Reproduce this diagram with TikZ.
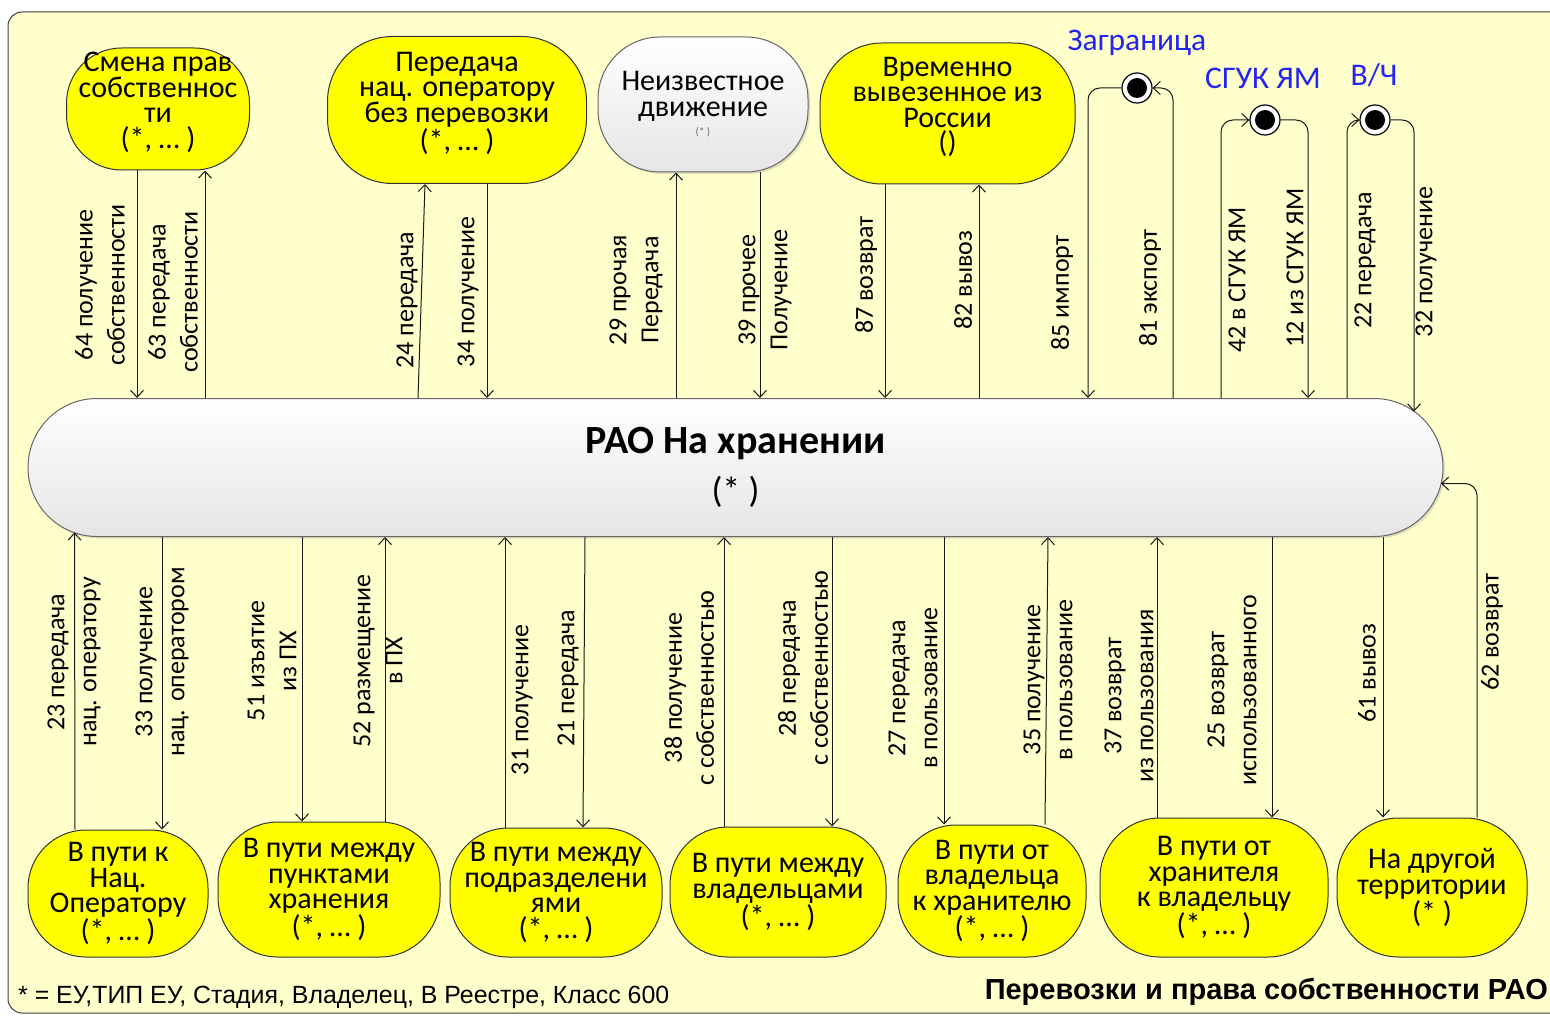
\documentclass[tikz,border=0pt]{standalone}
\usepackage{fontspec}
\setmainfont{Carlito}
\newfontfamily\arialfont{Liberation Sans}
\usetikzlibrary{calc,arrows.meta,shadows}
\definecolor{bgyellow}{RGB}{255,255,204}
\definecolor{nodeyellow}{RGB}{255,255,0}
\definecolor{regionblue}{RGB}{35,35,245}
\begin{document}
\begin{tikzpicture}[x=1pt,y=-1pt,
  frame/.style={draw=black!75, line width=1pt, fill=bgyellow, rounded corners=14pt},
  statebox/.style={draw=black!80, line width=1pt, fill=nodeyellow, align=center,
    inner sep=0pt, font=\fontsize{30}{25.5}\selectfont},
  greybox/.style={statebox, fill=none, top color=white, bottom color=black!10,
    draw=black!60, drop shadow={shadow xshift=2pt, shadow yshift=-2pt, opacity=0.25}},
  marker/.style={circle, draw=black, line width=1.2pt, fill=white, minimum size=30pt,
    inner sep=0pt, path picture={\fill[black] (path picture bounding box.center) circle[radius=10pt];}},
  flow/.style={draw=black!90, line width=1pt, -{Straight Barb[length=7pt,width=13pt]}},
  elbow/.style={flow, rounded corners=12pt},
  lbl/.style={rotate=90, align=center, inner sep=0pt, font=\fontsize{26}{32}\selectfont},
  region/.style={text=regionblue, inner sep=0pt, font=\fontsize{31.5}{31.5}\selectfont},
]
\useasboundingbox (0,0) rectangle (1550,1016);
\clip (0,0) rectangle (1550,1016);
\draw[frame] (8,12) rectangle (1580,1013);

% central state
\node[greybox, minimum width=1415pt, minimum height=138pt, rounded corners=69pt,
  font=\fontsize{40}{49}\selectfont] (main) at (735.5,467.5)
  {\textbf{РАО На хранении}\\{\fontsize{36}{49}\selectfont(* )}};

% upper states
\node[statebox, minimum width=183pt, minimum height=122pt, rounded corners=55pt] (smena) at (158,109)
  {Смена прав\\собственнос\\ти\\(*, … )\\[-8pt]};
\node[statebox, minimum width=259pt, minimum height=147pt, rounded corners=65pt] (bezper) at (457,110)
  {Передача\\нац. оператору\\без перевозки\\(*, … )\\[-8pt]};
\node[greybox, minimum width=210pt, minimum height=135pt, rounded corners=62pt] (unknown) at (703,104.5)
  {Неизвестное\\движение\\[-6pt]{\fontsize{11}{11}\selectfont\color{black!60}(* )}};
\node[statebox, minimum width=255pt, minimum height=141pt, rounded corners=62pt] (vremen) at (947.5,113.5)
  {Временно\\вывезенное из\\России\\()\\[-8pt]};

% external end points
\node[marker] (zag) at (1137,88) {};
\node[marker] (sguk) at (1265,120) {};
\node[marker] (vch) at (1375,120) {};
\node[region] (zagT) at (1137,43) {Заграница};
\node[region] (sgukT) at (1263,78) {СГУК ЯМ};
\node[region] (vchT) at (1374,75) {В/Ч};

% lower states
\node[statebox, minimum width=180pt, minimum height=127pt, rounded corners=58pt] (natsop) at (118,893.5)
  {В пути к\\Нац.\\Оператору\\(*, … )};
\node[statebox, minimum width=222pt, minimum height=135pt, rounded corners=60pt] (punkty) at (329,889.5)
  {В пути между\\пунктами\\хранения\\(*, … )};
\node[statebox, minimum width=212pt, minimum height=129pt, rounded corners=58pt] (podrazd) at (556,892.5)
  {В пути между\\подразделени\\ями\\(*, … )};
\node[statebox, minimum width=216pt, minimum height=130pt, rounded corners=58pt] (vlad) at (778,892)
  {В пути между\\владельцами\\(*, … )};
\node[statebox, minimum width=188pt, minimum height=132pt, rounded corners=58pt] (khran) at (992,891)
  {В пути от\\владельца\\к хранителю\\(*, … )};
\node[statebox, minimum width=228pt, minimum height=139pt, rounded corners=60pt] (kvlad) at (1214,887.5)
  {В пути от\\хранителя\\к владельцу\\(*, … )};
\node[statebox, minimum width=190pt, minimum height=139pt, rounded corners=62pt] (territ) at (1432,887.5)
  {На другой\\территории\\(* )};

% upper transitions
\draw[flow] (smena.south -| 137,0) -- (main.north -| 137,0);
\draw[flow] (main.north -| 205,0) -- (smena.south -| 205,0);
\draw[flow] (main.north -| 418,0) -- (bezper.south -| 425,0);
\draw[flow] (bezper.south -| 487,0) -- (main.north -| 487,0);
\draw[flow] (main.north -| 676,0) -- (unknown.south -| 676,0);
\draw[flow] (unknown.south -| 760,0) -- (main.north -| 760,0);
\draw[flow] (vremen.south -| 885,0) -- (main.north -| 885,0);
\draw[flow] (main.north -| 979,0) -- (vremen.south -| 979,0);
\draw[elbow] (zag.west) -| (main.north -| 1088,0);
\draw[elbow] (main.north -| 1173,0) |- (zag.east);
\draw[elbow] (main.north -| 1221,0) |- (sguk.west);
\draw[elbow] (sguk.east) -| (main.north -| 1308,0);
\draw[elbow] (main.north -| 1347,0) |- (vch.west);
\draw[elbow] (vch.east) -| ($(main.east)+(-29.5,-56)$);

% lower transitions
\draw[flow] (natsop.north -| 75,0) -- ($(main.west)+(47,65)$);
\draw[flow] (main.south -| 162,0) -- (natsop.north -| 162,0);
\draw[flow] (main.south -| 302,0) -- (punkty.north -| 302,0);
\draw[flow] (punkty.north -| 385,0) -- (main.south -| 385,0);
\draw[flow] (podrazd.north -| 505,0) -- (main.south -| 505,0);
\draw[flow] (main.south -| 585,0) -- (podrazd.north -| 583,0);
\draw[flow] (vlad.north -| 724,0) -- (main.south -| 724,0);
\draw[flow] (main.south -| 832,0) -- (vlad.north -| 832,0);
\draw[flow] (main.south -| 944,0) -- (khran.north -| 944,0);
\draw[flow] (khran.north -| 1045,0) -- (main.south -| 1048,0);
\draw[flow] (kvlad.north -| 1157,0) -- (main.south -| 1157,0);
\draw[flow] (main.south -| 1272,0) -- (kvlad.north -| 1272,0);
\draw[flow] (main.south -| 1383,0) -- (territ.north -| 1383,0);
\draw[elbow] (territ.north -| 1477,0) |- ($(main.east)+(-2.5,16)$);

% transition labels, upper half
\node[lbl] (t64) at (100,285) {64 получение\\собственности};
\node[lbl] (t63) at (173,292) {63 передача\\собственности};
\node[lbl] (t24) at (407,300) {24 передача};
\node[lbl] (t34) at (468,292) {34 получение};
\node[lbl] (t29) at (636,290) {29 прочая\\Передача};
\node[lbl] (t39) at (765,290) {39 прочее\\Получение};
\node[lbl] (t87) at (866,275) {87 возврат};
\node[lbl] (t82) at (963,280) {82 вывоз};
\node[lbl] (t85) at (1062,293) {85 импорт};
\node[lbl] (t81) at (1150,288) {81 экспорт};
\node[lbl] (t42) at (1237,280) {42 в СГУК ЯМ};
\node[lbl] (t12) at (1295,268) {12 из СГУК ЯМ};
\node[lbl] (t22) at (1365,260) {22 передача};
\node[lbl] (t32) at (1426,262) {32 получение};

% transition labels, lower half
\node[lbl] (t23) at (74,662) {23 передача\\нац. оператору};
\node[lbl] (t33) at (162,662) {33 получение\\нац. оператором};
\node[lbl] (t51) at (272,661) {51 изъятие\\из ПХ};
\node[lbl] (t52) at (378,661) {52 размещение\\в ПХ};
\node[lbl] (t31) at (522,700) {31 получение};
\node[lbl] (t21) at (568,678) {21 передача};
\node[lbl] (t38) at (689,688) {38 получение\\с собственностью};
\node[lbl] (t28) at (803,668) {28 передача\\с собственностью};
\node[lbl] (t27) at (913,688) {27 передача\\в пользование};
\node[lbl] (t35) at (1048,680) {35 получение\\в пользование};
\node[lbl] (t37) at (1129,696) {37 возврат\\из пользования};
\node[lbl] (t25) at (1232,690) {25 возврат\\использованного};
\node[lbl] (t61) at (1367,673) {61 вывоз};
\node[lbl] (t62) at (1492,632) {62 возврат};

% footer
\node[anchor=west, inner sep=0pt, font=\arialfont\fontsize{24.9}{25}\selectfont] (legend) at (18,997)
  {* = ЕУ,ТИП ЕУ, Стадия, Владелец, В Реестре, Класс 600};
\node[anchor=east, inner sep=0pt, font=\arialfont\bfseries\fontsize{29}{29}\selectfont] (caption) at (1548,992)
  {Перевозки и права собственности РАО};
\end{tikzpicture}
\end{document}
